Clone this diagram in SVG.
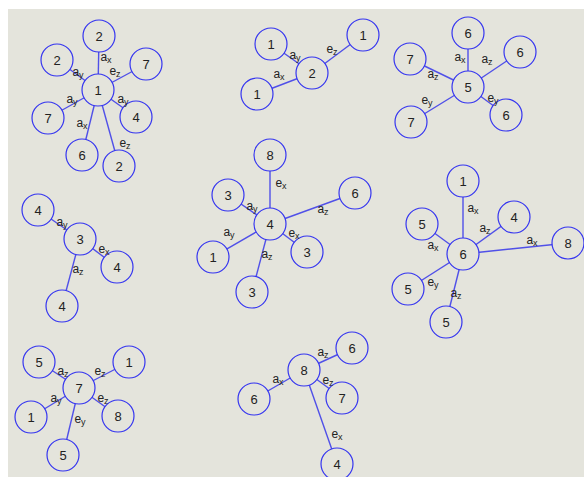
<svg xmlns="http://www.w3.org/2000/svg" width="584" height="477" viewBox="0 0 584 477">
<style>
.n circle{fill:#E4E4DC;stroke:#3535F0;stroke-width:1.2}
.n text{font-family:"Liberation Sans",Arial,sans-serif;font-size:13px;fill:#222;text-anchor:middle}
#edges line{stroke:#5050E8;stroke-width:1.4}
.l{font-family:"Liberation Sans",Arial,sans-serif;font-size:12px;fill:#222;text-anchor:middle}
.s{font-size:9px}
</style>
<rect x="0" y="0" width="584" height="477" fill="#FFFFFF"/>
<rect x="8" y="9" width="576" height="468" fill="#E4E4DC"/>
<g id="edges">
<line x1="98" y1="90" x2="99" y2="36"/><line x1="98" y1="90" x2="57" y2="60"/><line x1="98" y1="90" x2="146" y2="64"/><line x1="98" y1="90" x2="136" y2="117"/><line x1="98" y1="90" x2="48" y2="118"/><line x1="98" y1="90" x2="82" y2="155"/><line x1="98" y1="90" x2="119" y2="166"/>
<line x1="312" y1="73" x2="271" y2="44"/><line x1="312" y1="73" x2="363" y2="35"/><line x1="312" y1="73" x2="257" y2="94"/>
<line x1="468" y1="87" x2="468" y2="33"/><line x1="468" y1="87" x2="520" y2="52"/><line x1="468" y1="87" x2="410" y2="59"/><line x1="468" y1="87" x2="411" y2="122"/><line x1="468" y1="87" x2="506" y2="115"/>
<line x1="80" y1="239" x2="38" y2="210"/><line x1="80" y1="239" x2="117" y2="267"/><line x1="80" y1="239" x2="62" y2="306"/>
<line x1="270" y1="224" x2="270" y2="155"/><line x1="270" y1="224" x2="228" y2="195"/><line x1="270" y1="224" x2="355" y2="193"/><line x1="270" y1="224" x2="213" y2="257"/><line x1="270" y1="224" x2="307" y2="252"/><line x1="270" y1="224" x2="252" y2="292"/>
<line x1="463" y1="254" x2="463" y2="181"/><line x1="463" y1="254" x2="422" y2="224"/><line x1="463" y1="254" x2="514" y2="217"/><line x1="463" y1="254" x2="568" y2="243"/><line x1="463" y1="254" x2="408" y2="289"/><line x1="463" y1="254" x2="446" y2="322"/>
<line x1="79" y1="388" x2="39" y2="362"/><line x1="79" y1="388" x2="129" y2="362"/><line x1="79" y1="388" x2="31" y2="417"/><line x1="79" y1="388" x2="118" y2="416"/><line x1="79" y1="388" x2="63" y2="455"/>
<line x1="304" y1="370" x2="352" y2="348"/><line x1="304" y1="370" x2="342" y2="398"/><line x1="304" y1="370" x2="254" y2="399"/><line x1="304" y1="370" x2="337" y2="464"/>
</g>
<g id="n1-c" class="n"><circle cx="98" cy="90" r="16"/><text x="98" y="95">1</text></g>
<g id="n1-a" class="n"><circle cx="99" cy="36" r="16"/><text x="99" y="41">2</text></g>
<g id="n1-b" class="n"><circle cx="57" cy="60" r="16"/><text x="57" y="65">2</text></g>
<g id="n1-d" class="n"><circle cx="146" cy="64" r="16"/><text x="146" y="69">7</text></g>
<g id="n1-e" class="n"><circle cx="136" cy="117" r="16"/><text x="136" y="122">4</text></g>
<g id="n1-f" class="n"><circle cx="48" cy="118" r="16"/><text x="48" y="123">7</text></g>
<g id="n1-g" class="n"><circle cx="82" cy="155" r="16"/><text x="82" y="160">6</text></g>
<g id="n1-h" class="n"><circle cx="119" cy="166" r="16"/><text x="119" y="171">2</text></g>
<g id="n2-c" class="n"><circle cx="312" cy="73" r="16"/><text x="312" y="78">2</text></g>
<g id="n2-a" class="n"><circle cx="271" cy="44" r="16"/><text x="271" y="49">1</text></g>
<g id="n2-b" class="n"><circle cx="363" cy="35" r="16"/><text x="363" y="40">1</text></g>
<g id="n2-d" class="n"><circle cx="257" cy="94" r="16"/><text x="257" y="99">1</text></g>
<g id="n3-c" class="n"><circle cx="468" cy="87" r="16"/><text x="468" y="92">5</text></g>
<g id="n3-a" class="n"><circle cx="468" cy="33" r="16"/><text x="468" y="38">6</text></g>
<g id="n3-b" class="n"><circle cx="520" cy="52" r="16"/><text x="520" y="57">6</text></g>
<g id="n3-d" class="n"><circle cx="410" cy="59" r="16"/><text x="410" y="64">7</text></g>
<g id="n3-e" class="n"><circle cx="411" cy="122" r="16"/><text x="411" y="127">7</text></g>
<g id="n3-f" class="n"><circle cx="506" cy="115" r="16"/><text x="506" y="120">6</text></g>
<g id="n4-c" class="n"><circle cx="80" cy="239" r="16"/><text x="80" y="244">3</text></g>
<g id="n4-a" class="n"><circle cx="38" cy="210" r="16"/><text x="38" y="215">4</text></g>
<g id="n4-b" class="n"><circle cx="117" cy="267" r="16"/><text x="117" y="272">4</text></g>
<g id="n4-d" class="n"><circle cx="62" cy="306" r="16"/><text x="62" y="311">4</text></g>
<g id="n5-c" class="n"><circle cx="270" cy="224" r="16"/><text x="270" y="229">4</text></g>
<g id="n5-a" class="n"><circle cx="270" cy="155" r="16"/><text x="270" y="160">8</text></g>
<g id="n5-b" class="n"><circle cx="228" cy="195" r="16"/><text x="228" y="200">3</text></g>
<g id="n5-d" class="n"><circle cx="355" cy="193" r="16"/><text x="355" y="198">6</text></g>
<g id="n5-e" class="n"><circle cx="213" cy="257" r="16"/><text x="213" y="262">1</text></g>
<g id="n5-f" class="n"><circle cx="307" cy="252" r="16"/><text x="307" y="257">3</text></g>
<g id="n5-g" class="n"><circle cx="252" cy="292" r="16"/><text x="252" y="297">3</text></g>
<g id="n6-c" class="n"><circle cx="463" cy="254" r="16"/><text x="463" y="259">6</text></g>
<g id="n6-a" class="n"><circle cx="463" cy="181" r="16"/><text x="463" y="186">1</text></g>
<g id="n6-b" class="n"><circle cx="422" cy="224" r="16"/><text x="422" y="229">5</text></g>
<g id="n6-d" class="n"><circle cx="514" cy="217" r="16"/><text x="514" y="222">4</text></g>
<g id="n6-e" class="n"><circle cx="568" cy="243" r="16"/><text x="568" y="248">8</text></g>
<g id="n6-f" class="n"><circle cx="408" cy="289" r="16"/><text x="408" y="294">5</text></g>
<g id="n6-g" class="n"><circle cx="446" cy="322" r="16"/><text x="446" y="327">5</text></g>
<g id="n7-c" class="n"><circle cx="79" cy="388" r="16"/><text x="79" y="393">7</text></g>
<g id="n7-a" class="n"><circle cx="39" cy="362" r="16"/><text x="39" y="367">5</text></g>
<g id="n7-b" class="n"><circle cx="129" cy="362" r="16"/><text x="129" y="367">1</text></g>
<g id="n7-d" class="n"><circle cx="31" cy="417" r="16"/><text x="31" y="422">1</text></g>
<g id="n7-e" class="n"><circle cx="118" cy="416" r="16"/><text x="118" y="421">8</text></g>
<g id="n7-f" class="n"><circle cx="63" cy="455" r="16"/><text x="63" y="460">5</text></g>
<g id="n8-c" class="n"><circle cx="304" cy="370" r="16"/><text x="304" y="375">8</text></g>
<g id="n8-a" class="n"><circle cx="352" cy="348" r="16"/><text x="352" y="353">6</text></g>
<g id="n8-b" class="n"><circle cx="342" cy="398" r="16"/><text x="342" y="403">7</text></g>
<g id="n8-d" class="n"><circle cx="254" cy="399" r="16"/><text x="254" y="404">6</text></g>
<g id="n8-e" class="n"><circle cx="337" cy="464" r="16"/><text x="337" y="469">4</text></g>
<g id="edge-labels">
<text class="l" x="106" y="61">a<tspan class="s" dy="2">x</tspan></text>
<text class="l" x="78" y="76">a<tspan class="s" dy="2">y</tspan></text>
<text class="l" x="115" y="75">e<tspan class="s" dy="2">z</tspan></text>
<text class="l" x="72" y="103">a<tspan class="s" dy="2">y</tspan></text>
<text class="l" x="123" y="103">a<tspan class="s" dy="2">y</tspan></text>
<text class="l" x="82" y="127">a<tspan class="s" dy="2">x</tspan></text>
<text class="l" x="125" y="147">e<tspan class="s" dy="2">z</tspan></text>
<text class="l" x="295" y="59">a<tspan class="s" dy="2">y</tspan></text>
<text class="l" x="332" y="53">e<tspan class="s" dy="2">z</tspan></text>
<text class="l" x="279" y="78">a<tspan class="s" dy="2">x</tspan></text>
<text class="l" x="460" y="61">a<tspan class="s" dy="2">x</tspan></text>
<text class="l" x="487" y="63">a<tspan class="s" dy="2">z</tspan></text>
<text class="l" x="433" y="78">a<tspan class="s" dy="2">z</tspan></text>
<text class="l" x="427" y="104">e<tspan class="s" dy="2">y</tspan></text>
<text class="l" x="493" y="102">e<tspan class="s" dy="2">y</tspan></text>
<text class="l" x="62" y="226">a<tspan class="s" dy="2">y</tspan></text>
<text class="l" x="104" y="253">e<tspan class="s" dy="2">x</tspan></text>
<text class="l" x="78" y="273">a<tspan class="s" dy="2">z</tspan></text>
<text class="l" x="281" y="187">e<tspan class="s" dy="2">x</tspan></text>
<text class="l" x="252" y="210">a<tspan class="s" dy="2">y</tspan></text>
<text class="l" x="323" y="213">a<tspan class="s" dy="2">z</tspan></text>
<text class="l" x="229" y="236">a<tspan class="s" dy="2">y</tspan></text>
<text class="l" x="294" y="237">e<tspan class="s" dy="2">x</tspan></text>
<text class="l" x="267" y="258">a<tspan class="s" dy="2">z</tspan></text>
<text class="l" x="473" y="212">a<tspan class="s" dy="2">x</tspan></text>
<text class="l" x="485" y="232">a<tspan class="s" dy="2">z</tspan></text>
<text class="l" x="532" y="244">a<tspan class="s" dy="2">x</tspan></text>
<text class="l" x="433" y="249">a<tspan class="s" dy="2">x</tspan></text>
<text class="l" x="433" y="286">e<tspan class="s" dy="2">y</tspan></text>
<text class="l" x="456" y="297">a<tspan class="s" dy="2">z</tspan></text>
<text class="l" x="63" y="375">a<tspan class="s" dy="2">z</tspan></text>
<text class="l" x="100" y="375">e<tspan class="s" dy="2">z</tspan></text>
<text class="l" x="56" y="402">a<tspan class="s" dy="2">y</tspan></text>
<text class="l" x="103" y="402">e<tspan class="s" dy="2">z</tspan></text>
<text class="l" x="80" y="423">e<tspan class="s" dy="2">y</tspan></text>
<text class="l" x="323" y="356">a<tspan class="s" dy="2">z</tspan></text>
<text class="l" x="278" y="383">a<tspan class="s" dy="2">x</tspan></text>
<text class="l" x="328" y="384">e<tspan class="s" dy="2">z</tspan></text>
<text class="l" x="337" y="438">e<tspan class="s" dy="2">x</tspan></text>
</g>
</svg>
